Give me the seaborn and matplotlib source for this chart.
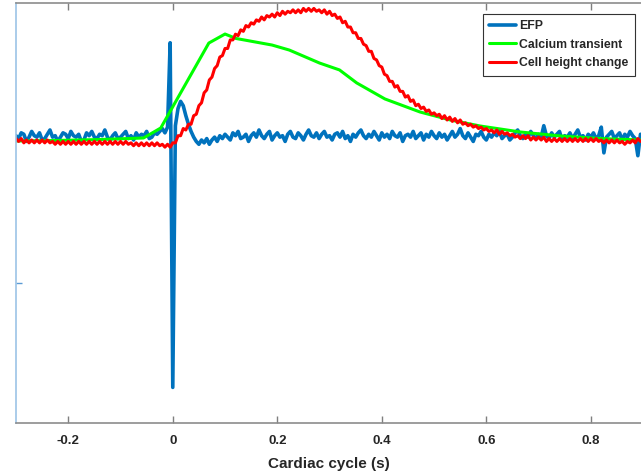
import numpy as np
import matplotlib
matplotlib.use("Agg")
import matplotlib.pyplot as plt
import seaborn as sns

# sampling grid for EFP and cell height (s)
t = np.round(np.arange(-0.300, 0.8951, 0.005), 3)

# EFP trace (a.u.)
efp = [
    3, 1, 5, 4, -1, 2, 6, 3, 2, 5, 0, 1, 4, 7, 2, 3, -1, 2, 5, 4,
    1, 6, 3, 2, 4, -1, 0, 5, 3, 6, 2, 1, 4, 3, 7, 2, 0, 3, 5, 1,
    2, 4, 6, 1, 3, 0, 5, 2, 4, 3, 6, 1, 2, 5, 4, 6, 8, 5, 9, 68,
    -173, 10, 22, 27, 24, 17, 11, 6, 2, -1, -3, 0, -2, 1, -3, 0, 2, -1, 3, 1,
    4, 2, 0, 5, 3, 6, 1, 2, 4, -1, 3, 5, 2, 7, 3, 1, 4, 6, 0, 3,
    5, 2, 3, -1, 4, 6, 2, 1, 5, 3, 0, 4, 7, 3, 2, 5, 1, 4, 6, 2,
    3, 0, 4, 5, 2, 6, 1, 3, -1, 4, 2, 5, 7, 3, 1, 4, 2, 6, 3, 0,
    5, 2, 4, 1, 6, 3, 2, 5, -1, 3, 4, 2, 6, 1, 3, 5, 0, 4, 2, 6,
    3, 1, 5, 2, 4, 0, 3, 6, 2, 4, 8, 3, 1, 5, 2, -1, 4, 3, 6, 2,
    0, 4, 2, 5, 3, 6, 1, 3, 4, 0, 2, 5, 7, 3, 1, 4, 2, 6, 3, 1,
    4, 2, 10, 3, 1, 5, 2, 4, 6, 0, 3, 2, 5, 1, 4, 7, 2, 3, 0, 4,
    2, 5, 1, 3, 9, -9, 2, 4, 6, 1, 3, 5, 0, 4, 2, 6, 3, 1, -11, 4,
]

# cell height change (a.u.)
height = [
    1, -1, 1, -2, 0, -2, 0, -2, 0, -2, 0, -2, 0, -2, -1, -3, -1, -3, -1, -3,
    -1, -3, -1, -3, -1, -3, -1, -3, -1, -3, -1, -3, -1, -3, -1, -3, -1, -3, -1, -3,
    -1, -3, -1, -3, -2, -4, -2, -4, -2, -4, -2, -4, -2, -4, -2, -4, -3, -5, -3, -5,
    -2, -2, 3, 3, 8, 7, 11, 11, 17, 18, 24, 26, 33, 35, 42, 44, 50, 52, 58, 59,
    64, 64, 70, 70, 74, 73, 77, 76, 80, 79, 82, 81, 84, 83, 86, 84, 87, 86, 88, 86,
    89, 87, 90, 88, 90, 89, 91, 89, 91, 89, 92, 90, 92, 90, 92, 90, 91, 89, 91, 88,
    90, 87, 88, 85, 86, 82, 83, 79, 79, 75, 75, 71, 71, 67, 66, 62, 62, 57, 56, 52,
    51, 46, 45, 41, 41, 37, 38, 34, 34, 30, 31, 27, 28, 24, 25, 22, 23, 20, 21, 18,
    19, 17, 18, 15, 17, 14, 16, 13, 15, 12, 14, 11, 12, 10, 11, 9, 10, 8, 9, 7,
    8, 6, 7, 5, 7, 4, 6, 4, 5, 3, 4, 2, 3, 1, 3, 1, 3, 0, 2, 0,
    2, 0, 2, -1, 1, -1, 1, -1, 1, -1, 1, -1, 1, -1, 1, -1, 1, -1, 1, -1,
    1, -1, 1, -1, 0, -2, 0, -2, 0, -2, 0, -2, -1, -3, -1, -2, 0, -2, 1, -1,
]

# calcium transient, coarser sampling
ca_t = [-0.304, -0.219, -0.142, -0.056, -0.023, 0.069, 0.100, 0.121, 0.190,
        0.223, 0.281, 0.319, 0.352, 0.406, 0.473, 0.531, 0.588, 0.665, 0.742,
        0.819, 0.898]
ca = [-0.7, -0.3, 0.3, 1.4, 8.4, 67.8, 74.1, 71.0, 66.4, 62.9, 53.8, 49.0,
      39.9, 28.7, 19.6, 14.0, 9.8, 5.6, 2.8, 1.0, 0.0]

x_ticks = [-0.2, 0, 0.2, 0.4, 0.6, 0.8]
x_ticklabels = ["-0.2", "0", "0.2", "0.4", "0.6", "0.8"]

sns.set_style("white")
plt.rcParams["font.family"] = ["Liberation Sans", "DejaVu Sans"]
plt.rcParams["axes.unicode_minus"] = False

fig = plt.figure(figsize=(6.41, 4.76), dpi=100)
ax = fig.add_axes([16 / 641, 53 / 476, 625 / 641, 420 / 476])

sns.lineplot(x=t, y=efp, color="#0072BD", linewidth=2.6, label="EFP",
             errorbar=None, ax=ax)
sns.lineplot(x=ca_t, y=ca, color="#00FF00", linewidth=2.2,
             label="Calcium transient", errorbar=None, ax=ax)
sns.lineplot(x=t, y=height, color="#FF0000", linewidth=2.2,
             label="Cell height change", errorbar=None, ax=ax)

ax.set_xlim(-0.3, 0.896)
ax.set_ylim(-197.9, 95.8)
ax.set_xticks(x_ticks)
ax.set_xticklabels(x_ticklabels)
ax.set_yticks([-100, 0])
ax.set_yticklabels([])

ax.tick_params(axis="x", direction="in", top=True, bottom=True, length=5,
               width=1, color="#7f7f7f", pad=9, labelsize=9.5,
               labelcolor="#262626")
ax.tick_params(axis="y", direction="in", left=True, length=4, width=1,
               color="#5b9bd5")
for lab in ax.get_xticklabels():
    lab.set_fontweight("bold")

ax.spines["right"].set_visible(False)
ax.spines["top"].set_color("#8c8c8c")
ax.spines["bottom"].set_color("#8c8c8c")
ax.spines["left"].set_color("#9cc3e6")
for s in ["top", "bottom", "left"]:
    ax.spines[s].set_linewidth(1.2)

ax.set_xlabel("Cardiac cycle (s)", fontsize=11, fontweight="bold",
              color="#262626", labelpad=7)
ax.set_ylabel("")

leg = ax.legend(loc="upper right", bbox_to_anchor=(0.990, 0.974),
                borderaxespad=0, fancybox=False, framealpha=1,
                edgecolor="#333333", handlelength=2.2, handletextpad=0.3,
                labelspacing=0.55, borderpad=0.5,
                prop={"weight": "bold", "size": 8.8})
leg.get_frame().set_linewidth(0.8)

fig.savefig("out.png", dpi=100)
